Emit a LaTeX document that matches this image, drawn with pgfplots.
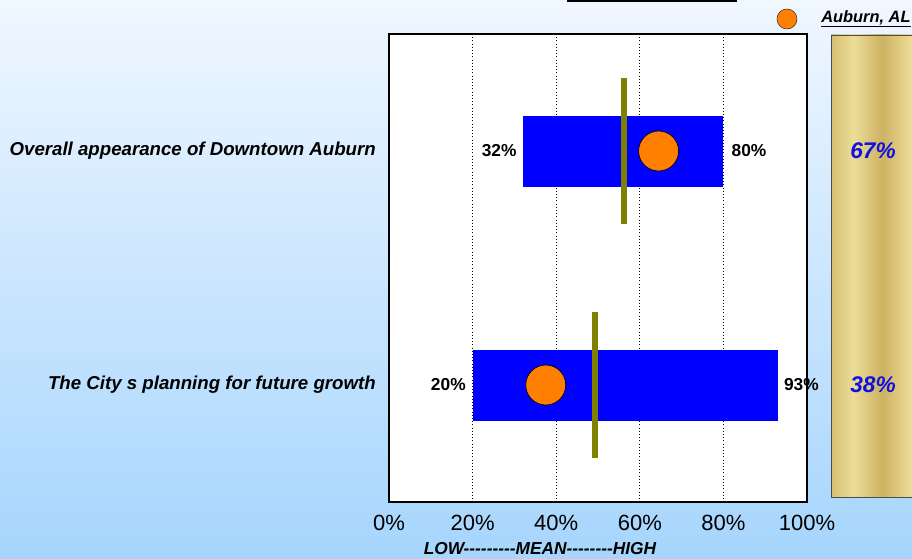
\documentclass[border=0pt]{standalone}
\usepackage{pgfplots}
\pgfplotsset{compat=1.18}
\usepackage{fontspec}
\setmainfont{Liberation Sans}
\definecolor{bgtop}{HTML}{F0F7FF}
\definecolor{bgbot}{HTML}{A6D5FD}
\definecolor{barblue}{HTML}{0000FF}
\definecolor{meanolive}{HTML}{808000}
\definecolor{dotorange}{HTML}{FF8000}
\definecolor{goldA}{HTML}{E6D491}
\definecolor{goldB}{HTML}{CDB262}
\definecolor{goldC}{HTML}{ECDD98}
\definecolor{valblue}{HTML}{1010E0}
\pgfdeclarehorizontalshading{goldpanel}{100bp}{color(0bp)=(goldA); color(20bp)=(goldB); color(38bp)=(goldC); color(55bp)=(goldB); color(72bp)=(goldC); color(88bp)=(goldB); color(100bp)=(goldA)}
\begin{document}
\begin{tikzpicture}[x=0.75pt,y=0.75pt]
\useasboundingbox (0,0) rectangle (912,558);
% page background
\shade[top color=bgtop, bottom color=bgbot] (0,0) rectangle (912,558);
% underline of the heading above
\draw[line width=1.5pt] (567,557.2) -- (737,557.2);
% gold side panel with the Auburn values
\shade[shading=goldpanel, draw=black!70, line width=0.6pt] (831,61) rectangle (916,523);
\node[font=\fontsize{17}{20}\selectfont\bfseries\itshape, text=valblue] at (873,407) {67\%};
\node[font=\fontsize{17}{20}\selectfont\bfseries\itshape, text=valblue] at (873,173) {38\%};
% legend
\draw[fill=dotorange, draw=black!80, line width=0.4pt] (787,539) circle (10);
\node[anchor=west, inner sep=0pt, font=\fontsize{12.3}{14}\selectfont\bfseries\itshape] at (821,539) {\underline{Auburn, AL}};
% category names
\node[anchor=east, inner sep=0pt, font=\fontsize{14}{16}\selectfont\bfseries\itshape] at (376,407) {Overall appearance of Downtown Auburn};
\node[anchor=east, inner sep=0pt, font=\fontsize{14}{16}\selectfont\bfseries\itshape] at (376,173) {The City s planning for future growth};
% axis caption
\node[inner sep=0pt, font=\fontsize{13}{15}\selectfont\bfseries\itshape] at (540,9) {LOW-{}-{}-{}-{}-{}-{}-{}-{}-{}MEAN-{}-{}-{}-{}-{}-{}-{}-{}HIGH};
\begin{axis}[
  at={(291.75pt,42pt)}, anchor=south west,
  width=313.5pt, height=351pt, scale only axis,
  xmin=0, xmax=100, ymin=0, ymax=2, y dir=reverse,
  axis background/.style={fill=white},
  axis line style={line width=1.5pt},
  xtick={0,20,40,60,80,100},
  xticklabels={0\%,20\%,40\%,60\%,80\%,100\%},
  ytick=\empty,
  major tick length=0pt,
  xmajorgrids, major grid style={black, dotted, line width=0.6pt},
  /pgf/number format/assume math mode=true,
  xticklabel style={font=\fontsize{16.5}{18}\selectfont, yshift=-6pt},
  clip=false,
]
% low-high ranges
\addplot[barblue, line width=53.25pt, line cap=butt] coordinates {(32,0.5) (80,0.5)};
\addplot[barblue, line width=53.25pt, line cap=butt] coordinates {(20,1.5) (93,1.5)};
% Auburn values
\addplot[only marks, mark=*, mark size=15pt, mark options={fill=dotorange, draw=black, line width=0.5pt}] coordinates {(64.5,0.5) (37.5,1.5)};
% means
\addplot[meanolive, line width=4.5pt, line cap=butt] coordinates {(56.2,0.19) (56.2,0.81)};
\addplot[meanolive, line width=4.5pt, line cap=butt] coordinates {(49.3,1.19) (49.3,1.81)};
% range end labels
\node[anchor=east, font=\fontsize{13}{15}\selectfont\bfseries, inner sep=0pt, xshift=-4.5pt] at (axis cs:32,0.5) {32\%};
\node[anchor=west, font=\fontsize{13}{15}\selectfont\bfseries, inner sep=0pt, xshift=6pt] at (axis cs:80,0.5) {80\%};
\node[anchor=east, font=\fontsize{13}{15}\selectfont\bfseries, inner sep=0pt, xshift=-5pt] at (axis cs:20,1.5) {20\%};
\node[anchor=west, font=\fontsize{13}{15}\selectfont\bfseries, inner sep=0pt, xshift=4.5pt] at (axis cs:93,1.5) {93\%};
\end{axis}
\end{tikzpicture}
\end{document}
